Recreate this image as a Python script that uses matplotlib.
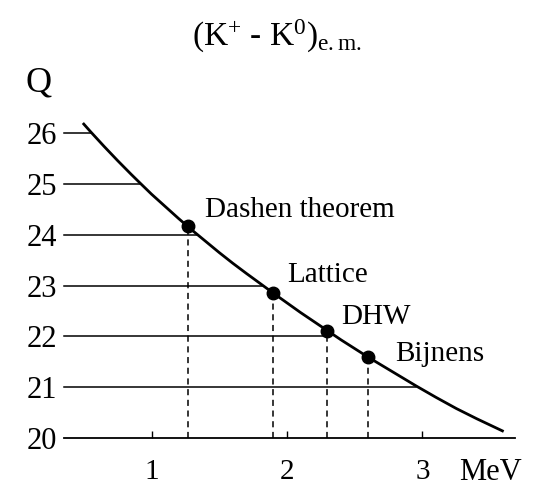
import numpy as np
import matplotlib
matplotlib.use("Agg")
import matplotlib.pyplot as plt

plt.rcParams['font.family'] = 'Liberation Serif'
plt.rcParams['mathtext.fontset'] = 'custom'
plt.rcParams['mathtext.rm'] = 'Liberation Serif'
plt.rcParams['mathtext.it'] = 'Liberation Serif:italic'

# Curve (MeV, Q)
curve_x = [0.50, 0.55, 0.65, 0.75, 0.85, 0.915, 1.0, 1.1, 1.2, 1.3, 1.4, 1.5, 1.6, 1.7,
           1.813, 1.9, 2.0, 2.1, 2.2, 2.3, 2.4, 2.5, 2.6, 2.7, 2.8, 2.9, 2.95, 3.1,
           3.25, 3.4, 3.59]
curve_q = [26.18, 26.03, 25.74, 25.46, 25.19, 25.02, 24.80, 24.56, 24.32, 24.09, 23.87,
           23.65, 23.44, 23.24, 23.02, 22.85, 22.66, 22.47, 22.29, 22.11, 21.93, 21.76,
           21.59, 21.43, 21.27, 21.11, 21.03, 20.80, 20.58, 20.38, 20.14]

# Horizontal guide lines: level and where each meets the curve
levels = [21, 22, 23, 24, 25, 26]
level_ends = [2.95, 2.27, 1.813, 1.34, 0.915, 0.551]

# Labelled estimates
names = ['Dashen theorem', 'Lattice', 'DHW', 'Bijnens']
pts_x = [1.267, 1.894, 2.297, 2.595]
pts_q = [24.17, 22.85, 22.10, 21.59]
lab_x = [1.395, 2.00, 2.40, 2.80]
lab_q = [24.49, 23.20, 22.39, 21.65]

xticks = [1, 2, 3]
x0, x1 = 0.354, 3.683

fig = plt.figure(figsize=(5.35, 4.87), dpi=100)
ax = fig.add_axes([64/535, 49/487, 451/535, 318/487])
ax.set_xlim(x0, x1)
ax.set_ylim(20, 26.26)

for s in ['left', 'right', 'top']:
    ax.spines[s].set_visible(False)
ax.spines['bottom'].set_linewidth(1.3)

ax.plot(curve_x, curve_q, color='black', lw=2.0, clip_on=False,
        solid_joinstyle='round')

for lv, xe in zip(levels, level_ends):
    ax.plot([x0, xe], [lv, lv], color='black', lw=1.1, clip_on=False)

for px, pq in zip(pts_x, pts_q):
    ax.plot([px, px], [20, pq], color='black', lw=1.1, ls=(0, (4, 3)), clip_on=False)
ax.plot(pts_x, pts_q, 'o', color='black', ms=9, clip_on=False, zorder=5)

for n, lx, lq in zip(names, lab_x, lab_q):
    ax.text(lx, lq, n, fontsize=21, va='center', ha='left')

ax.set_xticks(xticks)
ax.set_xticklabels([str(t) for t in xticks])
ax.tick_params(axis='x', direction='in', length=5, width=1.0, pad=15, labelsize=21)
ax.set_yticks([20] + levels)
ax.set_yticklabels([str(v) for v in [20] + levels])
ax.tick_params(axis='y', length=0, pad=5, labelsize=22)

fig.text(490/535, 1 - 473/487, 'MeV', fontsize=22, ha='center', va='center')
fig.text(39/535, 1 - 83/487, 'Q', fontsize=26, ha='center', va='center')
fig.text(277/535, 1 - 36/487, r'$(\mathrm{K^{+}}$ - $\mathrm{K^{0})_{e{.}m{.}}}$',
         fontsize=24, ha='center', va='center')

fig.savefig('out.png', dpi=100)
